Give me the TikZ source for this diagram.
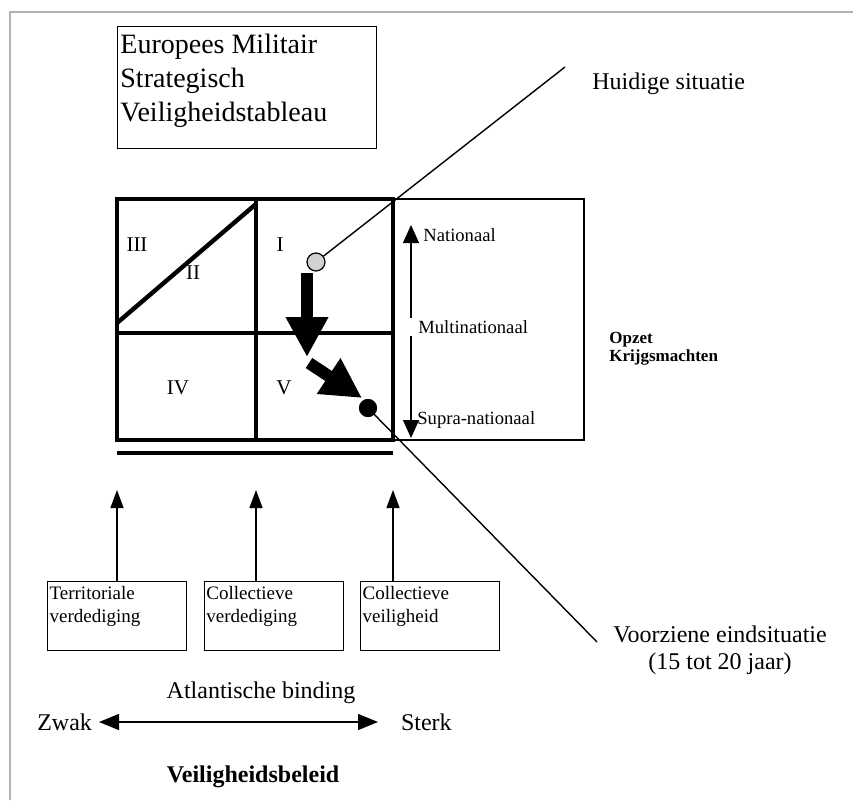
\documentclass[tikz,border=0pt]{standalone}
\usepackage{fontspec}
\setmainfont{Liberation Serif}
\usetikzlibrary{arrows.meta, positioning, calc}
\newcommand{\fsz}[2]{\fontsize{#1}{#2}\selectfont}

\begin{document}
\begin{tikzpicture}[
    x=0.5pt, y=-0.5pt,
    thinbox/.style={draw, line width=0.6pt},
    gridline/.style={line width=2.2pt},
    casebox/.style={draw, line width=0.6pt, minimum width=69.5pt, minimum height=34.5pt,
        inner xsep=1pt, inner ysep=0pt, text width=67.5pt, align=left, font=\fsz{9.5}{11.5}},
    cell/.style={font=\fsz{10.5}{12}},
    level/.style={font=\fsz{9.3}{11}, inner sep=1pt, anchor=west},
    bigarrow/.style={line width=6pt, -{Triangle[width=20pt, length=20pt]}},
    uparrow/.style={line width=0.7pt, -{Triangle[width=6.5pt, length=9pt]}},
    >={Triangle[width=8pt, length=10pt]}
]
    \useasboundingbox (0,0) rectangle (853,800);

    % Frame
    \draw[gray!60, line width=1pt] (10,800) -- (10,12) -- (853,12);

    % Title
    \node[thinbox, anchor=north west, minimum width=129.5pt, minimum height=61pt] (title) at (117,26) {};
    \node[anchor=north west, inner xsep=1.5pt, inner ysep=4pt, align=left, font=\fsz{14}{17}] (titletext) at (title.north west)
        {Europees Militair\\Strategisch\\Veiligheidstableau};

    % Grid
    \coordinate (gNW) at (117,199);
    \coordinate (gSE) at (393,440);
    \draw[gridline] (gNW) rectangle (gSE);
    \draw[gridline] (256,199) -- (256,440);
    \draw[gridline] (117,333) -- (393,333);
    \draw[gridline] (117,323) -- (256,204);
    \draw[gridline] (117,453) -- (393,453);
    \node[cell] (c3) at (137,245) {III};
    \node[cell] (c2) at (193,273) {II};
    \node[cell] (c1) at (280,245) {I};
    \node[cell] (c4) at (178,388) {IV};
    \node[cell] (c5) at (284,388) {V};

    % Opzet krijgsmachten
    \draw[thinbox] (gNW -| gSE) rectangle (584,440);
    \coordinate (natTop) at (411,225);
    \coordinate (natBot) at (411,438);
    \draw[line width=0.6pt, {Triangle[width=8pt, length=9pt]}-{Triangle[width=8pt, length=9pt]}] (natTop) -- (natBot);
    \node[level] (nat) at (421,235) {Nationaal};
    \node[level, fill=white, inner xsep=6pt] (multi) at (406,327) {Multinationaal};
    \node[level] (supra) at (415,420) {Supra-nationaal};
    \node[anchor=west, align=left, inner sep=1pt, font=\bfseries\fsz{8.5}{8.8}] (opzet) at (607,349) {Opzet\\Krijgsmachten};

    % Situations
    \node[draw, circle, fill=gray!35, line width=0.6pt, minimum size=9pt, inner sep=0pt] (now) at (316,262) {};
    \node[circle, fill=black, minimum size=9pt, inner sep=0pt] (future) at (368,408) {};
    \coordinate (bend) at (309,363);
    \draw[bigarrow] (307,273) -- (307,357);
    \draw[bigarrow] (bend) -- (362,398);
    \node[circle, fill=black, minimum size=9pt, inner sep=0pt] at (future) {};
    \coordinate (nowend) at (565,67);
    \coordinate (futend) at (597,642);
    \draw[line width=0.7pt] (now) -- (nowend);
    \draw[line width=0.7pt] (future.center) -- (futend);
    \node[anchor=west, inner sep=1.5pt, font=\fsz{12}{14}] (huidig) at (589,84) {Huidige situatie};
    \node[align=center, font=\fsz{12}{13.5}] (voorzien) at (720,650) {Voorziene eindsituatie\\(15 tot 20 jaar)};

    % Policy options
    \node[casebox, anchor=north west] (terr) at (47,581) {Territoriale\\verdediging\\\mbox{}};
    \node[casebox, right=8.3pt of terr] (colverd) {Collectieve\\verdediging\\\mbox{}};
    \node[casebox, right=8pt of colverd] (colveil) {Collectieve\\veiligheid\\\mbox{}};
    \coordinate (arrA) at (117,490);
    \coordinate (arrB) at (256,490);
    \coordinate (arrC) at (393,490);
    \draw[uparrow] (terr.north -| arrA) -- (arrA);
    \draw[uparrow] (colverd.north -| arrB) -- (arrB);
    \draw[uparrow] (colveil.north -| arrC) -- (arrC);

    % Atlantic axis
    \node[font=\fsz{12}{14}] (atl) at (261,693) {Atlantische binding};
    \node[anchor=east, font=\fsz{12}{14}] (zwak) at (99,722) {Zwak};
    \node[anchor=west, font=\fsz{12}{14}] (sterk) at (394,722) {Sterk};
    \draw[<->, line width=0.7pt, shorten >=8pt] (zwak) -- (sterk);
    \node[font=\bfseries\fsz{12}{14}] (beleid) at (253,777) {Veiligheidsbeleid};
\end{tikzpicture}
\end{document}
